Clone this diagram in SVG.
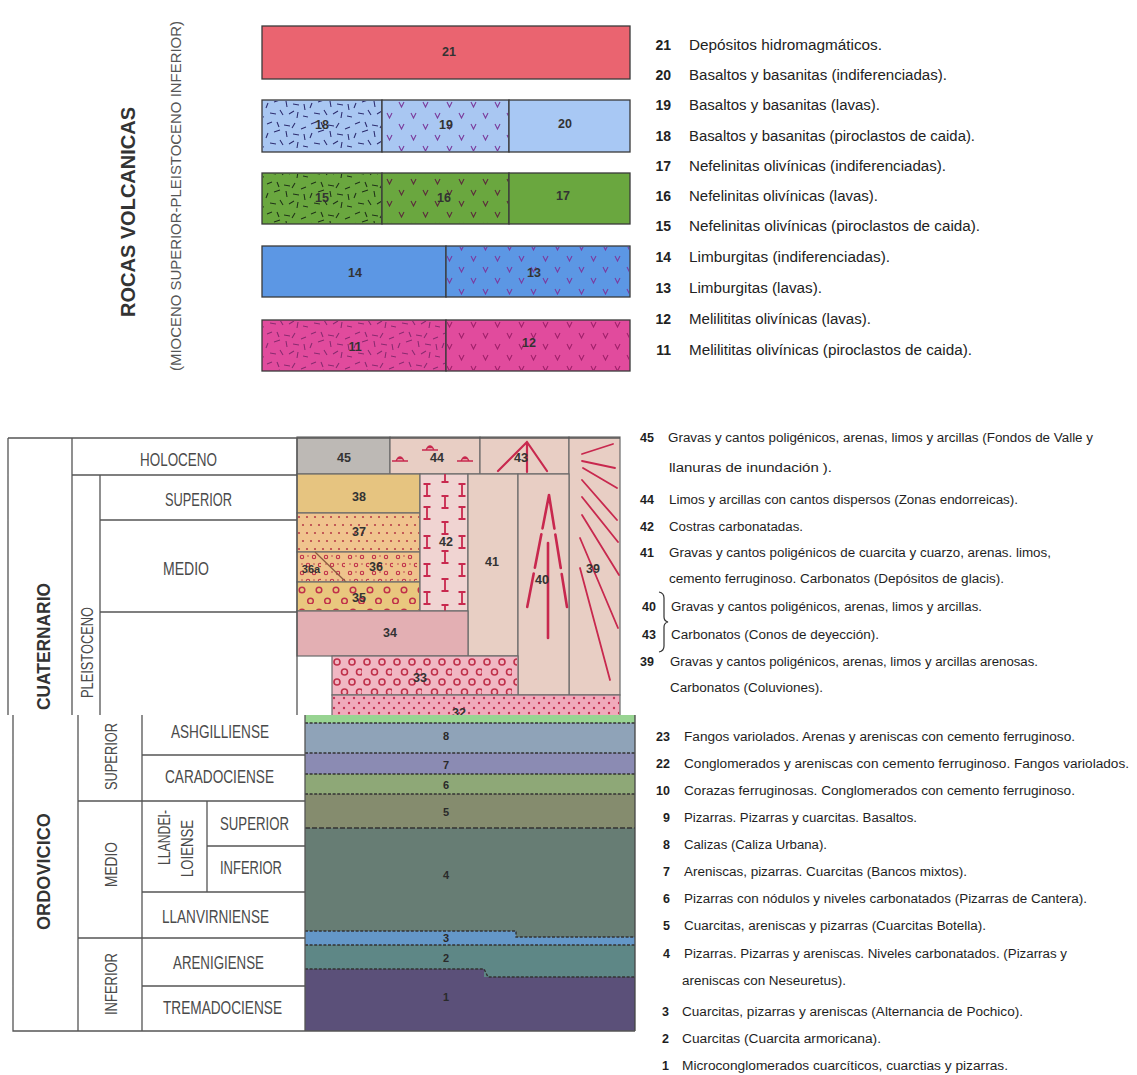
<svg xmlns="http://www.w3.org/2000/svg" width="1137" height="1075" viewBox="0 0 1137 1075">
<style>
.bx{stroke:#3a3a3a;stroke-width:1.3}
.cl{stroke:#6a6a6a;stroke-width:1.2}
.num{font-family:"Liberation Sans",Arial,sans-serif;font-weight:bold;font-size:12.5px;fill:#333;text-anchor:middle}
.onum{font-family:"Liberation Sans",Arial,sans-serif;font-weight:bold;font-size:11px;fill:#2a2a2a;text-anchor:middle}
.lg{font-family:"Liberation Sans",Arial,sans-serif;font-size:14px;fill:#222}
.lq{font-family:"Liberation Sans",Arial,sans-serif;font-size:12.5px;fill:#1e1e1e}
.ln{font-weight:bold;text-anchor:end}
.tl{stroke:#555;stroke-width:1.3;fill:none}
.hd{font-family:"Liberation Sans",Arial,sans-serif;font-size:18px;fill:#4a4a4a;text-anchor:middle}
.hb{font-family:"Liberation Sans",Arial,sans-serif;font-size:18px;font-weight:bold;fill:#333;text-anchor:middle}
.rd{stroke:#c8284e;fill:none;stroke-linecap:round}
.dl{stroke:#333;stroke-width:1.4;stroke-dasharray:3 1.6;fill:none}
</style>
<defs>
<pattern id="dashB" width="44" height="30" patternUnits="userSpaceOnUse">
<path d="M3 4L8 2M13 2L15 7M20 5L26 6M31 3L28 8M37 9L42 7M4 13L2 18M10 12L16 10M22 11L23 17M29 14L35 15M40 14L41 20M6 23L12 24M16 20L19 25M25 24L30 21M34 22L33 28M39 26L44 27" stroke="#2d2d70" stroke-width="1.1" fill="none"/>
</pattern>
<pattern id="dashG" width="44" height="30" patternUnits="userSpaceOnUse">
<path d="M3 4L8 2M13 2L15 7M20 5L26 6M31 3L28 8M37 9L42 7M4 13L2 18M10 12L16 10M22 11L23 17M29 14L35 15M40 14L41 20M6 23L12 24M16 20L19 25M25 24L30 21M34 22L33 28M39 26L44 27" stroke="#1f3317" stroke-width="1.1" fill="none"/>
</pattern>
<pattern id="dashM" width="44" height="30" patternUnits="userSpaceOnUse">
<path d="M3 4L8 2M13 2L15 7M20 5L26 6M31 3L28 8M37 9L42 7M4 13L2 18M10 12L16 10M22 11L23 17M29 14L35 15M40 14L41 20M6 23L12 24M16 20L19 25M25 24L30 21M34 22L33 28M39 26L44 27" stroke="#8a2a70" stroke-width="1.1" fill="none"/>
</pattern>
<pattern id="vB" width="24" height="22" patternUnits="userSpaceOnUse">
<path d="M3 3L5.5 8L8 3M15 14L17.5 19L20 14" stroke="#7a3a9a" stroke-width="1.1" fill="none"/>
</pattern>
<pattern id="vG" width="24" height="22" patternUnits="userSpaceOnUse">
<path d="M3 3L5.5 8L8 3M15 14L17.5 19L20 14" stroke="#5a2a3a" stroke-width="1.1" fill="none"/>
</pattern>
<pattern id="vL" width="24" height="22" patternUnits="userSpaceOnUse">
<path d="M3 3L5.5 8L8 3M15 14L17.5 19L20 14" stroke="#7a3aa0" stroke-width="1.1" fill="none"/>
</pattern>
<pattern id="vM" width="24" height="22" patternUnits="userSpaceOnUse">
<path d="M3 3L5.5 8L8 3M15 14L17.5 19L20 14" stroke="#a0206a" stroke-width="1.1" fill="none"/>
</pattern>
<pattern id="p37" x="297" y="513" width="8" height="16" patternUnits="userSpaceOnUse">
<circle cx="2" cy="4" r="1.1" fill="#b8404a"/><circle cx="6" cy="12" r="1.1" fill="#b8404a"/>
</pattern>
<pattern id="p36" x="297" y="552" width="24" height="16" patternUnits="userSpaceOnUse">
<g stroke="#c0304a" stroke-width="1.1" fill="none"><circle cx="5" cy="5" r="1.7"/><circle cx="17" cy="5" r="1.7"/><circle cx="11" cy="13" r="1.7"/><circle cx="23" cy="13" r="1.7"/></g>
<g fill="#b8404a"><circle cx="11" cy="4" r="0.8"/><circle cx="5" cy="12" r="0.8"/><circle cx="17" cy="12" r="0.8"/></g>
</pattern>
<pattern id="p35" x="297" y="582" width="34" height="22" patternUnits="userSpaceOnUse">
<g stroke="#c0304a" stroke-width="1.5" fill="none"><circle cx="5" cy="8" r="2.8"/><circle cx="22" cy="8" r="2.8"/><circle cx="13.5" cy="19" r="2.8"/><circle cx="30.5" cy="19" r="2.8"/></g>
</pattern>
<pattern id="p33" x="332" y="656" width="30" height="20" patternUnits="userSpaceOnUse">
<g stroke="#c0304a" stroke-width="1.6" fill="none"><circle cx="5" cy="6" r="3"/><circle cx="20" cy="6" r="3"/><circle cx="12.5" cy="16" r="3"/><circle cx="27.5" cy="16" r="3"/></g>
</pattern>
<pattern id="p32" x="332" y="695" width="10" height="10" patternUnits="userSpaceOnUse">
<circle cx="2" cy="3" r="1.2" fill="#c33355"/><circle cx="7" cy="8" r="1.2" fill="#c33355"/>
</pattern>
<path id="iSym" d="M-3.5 -6H3.5M0 -6V6M-3.5 6H3.5" stroke="#c8284e" stroke-width="1.8" fill="none"/>
<path id="mound" d="M-8 2H8M-4 2Q0 -6 4 2M-2 -0.5H2" stroke="#c8284e" stroke-width="1.3" fill="none"/>
<clipPath id="c42"><rect x="420" y="474" width="48" height="137"/></clipPath>
</defs>
<rect width="1137" height="1075" fill="#ffffff"/>

<!-- ===== VOLCANIC ROCKS ===== -->
<g id="volc-titles">
<text class="hb" transform="translate(135,212) rotate(-90)" textLength="210" lengthAdjust="spacingAndGlyphs" style="font-size:20px">ROCAS VOLCANICAS</text>
<text class="hd" transform="translate(180.5,196) rotate(-90)" textLength="350" lengthAdjust="spacingAndGlyphs" style="font-size:15px;fill:#555">(MIOCENO SUPERIOR-PLEISTOCENO INFERIOR)</text>
</g>
<g id="n21"><rect class="bx" x="262" y="26" width="368" height="53" fill="#ea6470"/><text class="num" x="449" y="56">21</text></g>
<g id="n18"><rect class="bx" x="262" y="100" width="120" height="52" fill="#a9c7f2"/><rect x="263" y="101" width="118" height="50" fill="url(#dashB)"/><text class="num" x="322" y="129">18</text></g>
<g id="n19"><rect class="bx" x="382" y="100" width="127" height="52" fill="#a9c7f2"/><rect x="383" y="101" width="125" height="50" fill="url(#vB)"/><text class="num" x="446" y="129">19</text></g>
<g id="n20"><rect class="bx" x="509" y="100" width="121" height="52" fill="#a8c8f4"/><text class="num" x="565" y="128">20</text></g>
<g id="n15"><rect class="bx" x="262" y="173" width="120" height="51" fill="#6aa73f"/><rect x="263" y="174" width="118" height="49" fill="url(#dashG)"/><text class="num" x="322" y="202">15</text></g>
<g id="n16"><rect class="bx" x="382" y="173" width="127" height="51" fill="#6aa73f"/><rect x="383" y="174" width="125" height="49" fill="url(#vG)"/><text class="num" x="444" y="202">16</text></g>
<g id="n17"><rect class="bx" x="509" y="173" width="121" height="51" fill="#6aa73f"/><text class="num" x="563" y="200">17</text></g>
<g id="n14"><rect class="bx" x="262" y="246" width="184" height="51" fill="#5c97e4"/><text class="num" x="355" y="277">14</text></g>
<g id="n13"><rect class="bx" x="446" y="246" width="184" height="51" fill="#5c97e4"/><rect x="447" y="247" width="182" height="49" fill="url(#vL)"/><text class="num" x="534" y="277">13</text></g>
<g id="n11"><rect class="bx" x="262" y="320" width="184" height="51" fill="#e14b9d"/><rect x="263" y="321" width="182" height="49" fill="url(#dashM)"/><text class="num" x="355" y="351">11</text></g>
<g id="n12"><rect class="bx" x="446" y="320" width="184" height="51" fill="#e14b9d"/><rect x="447" y="321" width="182" height="49" fill="url(#vM)"/><text class="num" x="529" y="347">12</text></g>

<g id="volc-legend" class="lg">
<text class="ln" x="671" y="50">21</text><text x="689" y="50" textLength="193" lengthAdjust="spacingAndGlyphs">Depósitos hidromagmáticos.</text>
<text class="ln" x="671" y="80">20</text><text x="689" y="80" textLength="258" lengthAdjust="spacingAndGlyphs">Basaltos y basanitas (indiferenciadas).</text>
<text class="ln" x="671" y="110">19</text><text x="689" y="110" textLength="191" lengthAdjust="spacingAndGlyphs">Basaltos y basanitas (lavas).</text>
<text class="ln" x="671" y="141">18</text><text x="689" y="141" textLength="286" lengthAdjust="spacingAndGlyphs">Basaltos y basanitas (piroclastos de caida).</text>
<text class="ln" x="671" y="171">17</text><text x="689" y="171" textLength="257" lengthAdjust="spacingAndGlyphs">Nefelinitas olivínicas (indiferenciadas).</text>
<text class="ln" x="671" y="201">16</text><text x="689" y="201" textLength="189" lengthAdjust="spacingAndGlyphs">Nefelinitas olivínicas (lavas).</text>
<text class="ln" x="671" y="231">15</text><text x="689" y="231" textLength="291" lengthAdjust="spacingAndGlyphs">Nefelinitas olivínicas (piroclastos de caida).</text>
<text class="ln" x="671" y="262">14</text><text x="689" y="262" textLength="201" lengthAdjust="spacingAndGlyphs">Limburgitas (indiferenciadas).</text>
<text class="ln" x="671" y="293">13</text><text x="689" y="293" textLength="133" lengthAdjust="spacingAndGlyphs">Limburgitas (lavas).</text>
<text class="ln" x="671" y="324">12</text><text x="689" y="324" textLength="182" lengthAdjust="spacingAndGlyphs">Melilititas olivínicas (lavas).</text>
<text class="ln" x="671" y="355">11</text><text x="689" y="355" textLength="283" lengthAdjust="spacingAndGlyphs">Melilititas olivínicas (piroclastos de caida).</text>
</g>

<!-- ===== QUATERNARY ===== -->
<g id="q45"><rect class="cl" x="297" y="437" width="93" height="37" fill="#bdb9b5"/><text class="num" x="344" y="462">45</text></g>
<g id="q44"><rect class="cl" x="390" y="437" width="90" height="37" fill="#e8cec4"/>
<use href="#mound" x="400" y="459"/><use href="#mound" x="430" y="448"/><use href="#mound" x="465" y="459"/>
<text class="num" x="437" y="462">44</text></g>
<g id="q43"><rect class="cl" x="480" y="437" width="89" height="37" fill="#e8cec4"/>
<path class="rd" stroke-width="2.2" d="M527 442L498 471M527 442L527 472M527 442L547 471"/>
<text class="num" x="521" y="462">43</text></g>
<g id="q39"><rect class="cl" x="569" y="437" width="51" height="258" fill="#e8cec4"/>
<path class="rd" stroke-width="1.8" d="M582 454L613 444M582 461L615 468M583 468L617 488M582 480L617 520M582 497L618 542M582 515L619 575M580 538L618 628M580 568L610 680"/>
<text class="num" x="593" y="573">39</text></g>
<g id="q38"><rect class="cl" x="297" y="474" width="123" height="39" fill="#e6c480"/><text class="num" x="359" y="501">38</text></g>
<g id="q37"><rect class="cl" x="297" y="513" width="123" height="39" fill="#f0c48e"/><rect x="298" y="514" width="121" height="37" fill="url(#p37)"/><text class="num" x="359" y="536">37</text></g>
<g id="q36"><rect class="cl" x="297" y="552" width="123" height="30" fill="#efc38c"/><rect x="298" y="553" width="121" height="28" fill="url(#p36)"/>
<path d="M315 552L347 583" stroke="#8a5a40" stroke-width="1.2"/>
<text class="num" x="311" y="573" style="font-size:11px">36a</text><text class="num" x="376" y="571">36</text></g>
<g id="q35"><rect class="cl" x="297" y="582" width="123" height="29" fill="#e9c77e"/><rect x="298" y="583" width="121" height="27" fill="url(#p35)"/><text class="num" x="359" y="602">35</text></g>
<g id="q42"><rect class="cl" x="420" y="474" width="48" height="137" fill="#f0d4d2"/>
<g clip-path="url(#c42)">
<use href="#iSym" x="427" y="490"/><use href="#iSym" x="427" y="513"/><use href="#iSym" x="427" y="542"/><use href="#iSym" x="427" y="570"/><use href="#iSym" x="427" y="598"/>
<use href="#iSym" x="462" y="490"/><use href="#iSym" x="462" y="513"/><use href="#iSym" x="462" y="542"/><use href="#iSym" x="462" y="570"/><use href="#iSym" x="462" y="598"/>
<use href="#iSym" x="445" y="476"/><use href="#iSym" x="445" y="502"/><use href="#iSym" x="445" y="528"/><use href="#iSym" x="445" y="557"/><use href="#iSym" x="445" y="585"/><use href="#iSym" x="445" y="611"/>
</g>
<text class="num" x="446" y="546">42</text></g>
<g id="q41"><rect class="cl" x="468" y="474" width="50" height="182" fill="#e8cfc4"/><text class="num" x="492" y="566">41</text></g>
<g id="q40"><rect class="cl" x="518" y="474" width="51" height="221" fill="#e8cec4"/>
<path class="rd" stroke-width="2.6" stroke-dasharray="34 6" d="M549 495L527 608M549 495L567 607"/>
<path class="rd" stroke-width="2.6" d="M548 543L548 638"/>
<text class="num" x="542" y="584">40</text></g>
<g id="q34"><rect class="cl" x="297" y="611" width="171" height="45" fill="#e3afb3"/><text class="num" x="390" y="637">34</text></g>
<g id="q33"><rect class="cl" x="332" y="656" width="186" height="39" fill="#f1b7c3"/><rect x="333" y="657" width="184" height="37" fill="url(#p33)"/><text class="num" x="420" y="682">33</text></g>
<g id="q32"><rect class="cl" x="332" y="695" width="288" height="30" fill="#f0aabb"/><rect x="333" y="696" width="286" height="28" fill="url(#p32)"/><text class="num" x="459" y="717">32</text></g>

<g id="q-table" class="tl">
<path d="M8 438H620M8 438V715M72 438V715M100 475V715M297 438V715M72 475H297M100 520H297M100 612H297"/>
</g>
<g id="q-headers">
<text class="hd" x="178.5" y="466" textLength="77" lengthAdjust="spacingAndGlyphs">HOLOCENO</text>
<text class="hd" x="198.5" y="506" textLength="67" lengthAdjust="spacingAndGlyphs">SUPERIOR</text>
<text class="hd" x="186" y="575" textLength="46" lengthAdjust="spacingAndGlyphs">MEDIO</text>
<text class="hd" transform="translate(93,652.5) rotate(-90)" textLength="91" lengthAdjust="spacingAndGlyphs" style="font-size:17px">PLEISTOCENO</text>
<text class="hb" transform="translate(49.5,646.5) rotate(-90)" textLength="127" lengthAdjust="spacingAndGlyphs">CUATERNARIO</text>
</g>

<g id="q-legend" class="lq">
<text class="ln" x="654" y="442">45</text><text x="668" y="442" textLength="425" lengthAdjust="spacingAndGlyphs">Gravas y cantos poligénicos, arenas, limos y arcillas (Fondos de Valle y</text>
<text x="669" y="472" textLength="163" lengthAdjust="spacingAndGlyphs">llanuras de inundación ).</text>
<text class="ln" x="654" y="504">44</text><text x="669" y="504" textLength="349" lengthAdjust="spacingAndGlyphs">Limos y arcillas con cantos dispersos (Zonas endorreicas).</text>
<text class="ln" x="654" y="531">42</text><text x="669" y="531" textLength="134" lengthAdjust="spacingAndGlyphs">Costras carbonatadas.</text>
<text class="ln" x="654" y="557">41</text><text x="669" y="557" textLength="382" lengthAdjust="spacingAndGlyphs">Gravas y cantos poligénicos de cuarcita y cuarzo, arenas. limos,</text>
<text x="669" y="583" textLength="335" lengthAdjust="spacingAndGlyphs">cemento ferruginoso.  Carbonatos (Depósitos de glacis).</text>
<text class="ln" x="656" y="611">40</text><text x="671" y="611" textLength="311" lengthAdjust="spacingAndGlyphs">Gravas y cantos poligénicos, arenas, limos y arcillas.</text>
<text class="ln" x="656" y="639">43</text><text x="671" y="639" textLength="208" lengthAdjust="spacingAndGlyphs">Carbonatos (Conos de deyección).</text>
<text class="ln" x="654" y="666">39</text><text x="670" y="666" textLength="368" lengthAdjust="spacingAndGlyphs">Gravas y cantos poligénicos, arenas, limos y arcillas arenosas.</text>
<text x="670" y="692" textLength="153" lengthAdjust="spacingAndGlyphs">Carbonatos (Coluviones).</text>
</g>
<g id="connectors">
<path d="M659 592Q664 593 664 598V617Q664 621 668 622Q664 623 664 627V646Q664 651 659 652" stroke="#333" stroke-width="1.2" fill="none"/>
</g>

<!-- ===== ORDOVICIAN ===== -->
<rect x="0" y="715" width="640" height="330" fill="#ffffff"/>
<g id="o-chart">
<rect x="305" y="715" width="330" height="8" fill="#98d492"/>
<g id="o8"><rect x="305" y="723" width="330" height="30" fill="#8fa3b8"/><text class="onum" x="446" y="740">8</text></g>
<g id="o7"><rect x="305" y="753" width="330" height="21" fill="#8b8bb3"/><text class="onum" x="446" y="769">7</text></g>
<g id="o6"><rect x="305" y="774" width="330" height="20" fill="#8ea877"/><text class="onum" x="446" y="789">6</text></g>
<g id="o5"><rect x="305" y="794" width="330" height="34" fill="#858c6e"/><text class="onum" x="446" y="816">5</text></g>
<g id="o4"><path d="M305 828H635V937H516V931H305Z" fill="#677d74"/><text class="onum" x="446" y="879">4</text></g>
<g id="o3"><path d="M305 931H516V937H635V945H305Z" fill="#6497c8"/><text class="onum" x="446" y="942">3</text></g>
<g id="o2"><path d="M305 945H635V977H484V969H305Z" fill="#5e8786"/><text class="onum" x="446" y="962">2</text></g>
<g id="o1"><path d="M305 969H484V977H635V1031H305Z" fill="#5b5079"/><text class="onum" x="446" y="1001">1</text></g>
<path class="dl" d="M305 723H635M305 753H635M305 774H635M305 794H635M305 931H516V937H635M305 945H635M305 969H484L488 977H635"/>
<path d="M305 828H635" stroke="#333" stroke-width="1.4" stroke-dasharray="5 2"/>
<path d="M635 715V1031" stroke="#444" stroke-width="1.3"/>
</g>
<g id="o-table" class="tl">
<path d="M13 715V1031H635M78 715V1031M142 715V1031M305 715V1031M207 801V892M142 755H305M78 801H305M207 846H305M142 892H305M78 938H305M142 986H305"/>
</g>
<g id="o-headers">
<text class="hb" transform="translate(49.5,871.5) rotate(-90)" textLength="117" lengthAdjust="spacingAndGlyphs">ORDOVICICO</text>
<text class="hd" transform="translate(116.5,756.5) rotate(-90)" textLength="67" lengthAdjust="spacingAndGlyphs" style="font-size:17px">SUPERIOR</text>
<text class="hd" transform="translate(116.5,864.5) rotate(-90)" textLength="45" lengthAdjust="spacingAndGlyphs" style="font-size:17px">MEDIO</text>
<text class="hd" transform="translate(116.5,984) rotate(-90)" textLength="62" lengthAdjust="spacingAndGlyphs" style="font-size:17px">INFERIOR</text>
<text class="hd" transform="translate(170,837.5) rotate(-90)" textLength="55" lengthAdjust="spacingAndGlyphs" style="font-size:17px">LLANDEI-</text>
<text class="hd" transform="translate(193,848.5) rotate(-90)" textLength="57" lengthAdjust="spacingAndGlyphs" style="font-size:17px">LOIENSE</text>
<text class="hd" x="220" y="738" textLength="98" lengthAdjust="spacingAndGlyphs">ASHGILLIENSE</text>
<text class="hd" x="219.5" y="783" textLength="109" lengthAdjust="spacingAndGlyphs">CARADOCIENSE</text>
<text class="hd" x="254.5" y="830" textLength="69" lengthAdjust="spacingAndGlyphs">SUPERIOR</text>
<text class="hd" x="251" y="874" textLength="62" lengthAdjust="spacingAndGlyphs">INFERIOR</text>
<text class="hd" x="215.5" y="923" textLength="107" lengthAdjust="spacingAndGlyphs">LLANVIRNIENSE</text>
<text class="hd" x="218.5" y="969" textLength="91" lengthAdjust="spacingAndGlyphs">ARENIGIENSE</text>
<text class="hd" x="222.5" y="1014" textLength="119" lengthAdjust="spacingAndGlyphs">TREMADOCIENSE</text>
</g>

<g id="o-legend" class="lq">
<text class="ln" x="670" y="741">23</text><text x="684" y="741" textLength="391" lengthAdjust="spacingAndGlyphs">Fangos variolados. Arenas y areniscas con cemento ferruginoso.</text>
<text class="ln" x="670" y="768">22</text><text x="684" y="768" textLength="445" lengthAdjust="spacingAndGlyphs">Conglomerados y areniscas con cemento ferruginoso. Fangos variolados.</text>
<text class="ln" x="670" y="795">10</text><text x="684" y="795" textLength="391" lengthAdjust="spacingAndGlyphs">Corazas ferruginosas. Conglomerados con cemento ferruginoso.</text>
<text class="ln" x="670" y="822">9</text><text x="684" y="822" textLength="233" lengthAdjust="spacingAndGlyphs">Pizarras. Pizarras y cuarcitas. Basaltos.</text>
<text class="ln" x="670" y="849">8</text><text x="684" y="849" textLength="143" lengthAdjust="spacingAndGlyphs">Calizas (Caliza Urbana).</text>
<text class="ln" x="670" y="876">7</text><text x="684" y="876" textLength="283" lengthAdjust="spacingAndGlyphs">Areniscas, pizarras. Cuarcitas (Bancos mixtos).</text>
<text class="ln" x="670" y="903">6</text><text x="684" y="903" textLength="403" lengthAdjust="spacingAndGlyphs">Pizarras con nódulos y niveles carbonatados (Pizarras de Cantera).</text>
<text class="ln" x="670" y="930">5</text><text x="684" y="930" textLength="302" lengthAdjust="spacingAndGlyphs">Cuarcitas, areniscas y pizarras (Cuarcitas Botella).</text>
<text class="ln" x="670" y="958">4</text><text x="684" y="958" textLength="383" lengthAdjust="spacingAndGlyphs">Pizarras. Pizarras y areniscas. Niveles carbonatados. (Pizarras y</text>
<text x="682" y="985" textLength="164" lengthAdjust="spacingAndGlyphs">areniscas con Neseuretus).</text>
<text class="ln" x="669" y="1016">3</text><text x="682" y="1016" textLength="341" lengthAdjust="spacingAndGlyphs">Cuarcitas, pizarras y areniscas (Alternancia de Pochico).</text>
<text class="ln" x="669" y="1043">2</text><text x="682" y="1043" textLength="199" lengthAdjust="spacingAndGlyphs">Cuarcitas (Cuarcita armoricana).</text>
<text class="ln" x="669" y="1070">1</text><text x="682" y="1070" textLength="326" lengthAdjust="spacingAndGlyphs">Microconglomerados cuarcíticos, cuarctias y pizarras.</text>
</g>
</svg>
